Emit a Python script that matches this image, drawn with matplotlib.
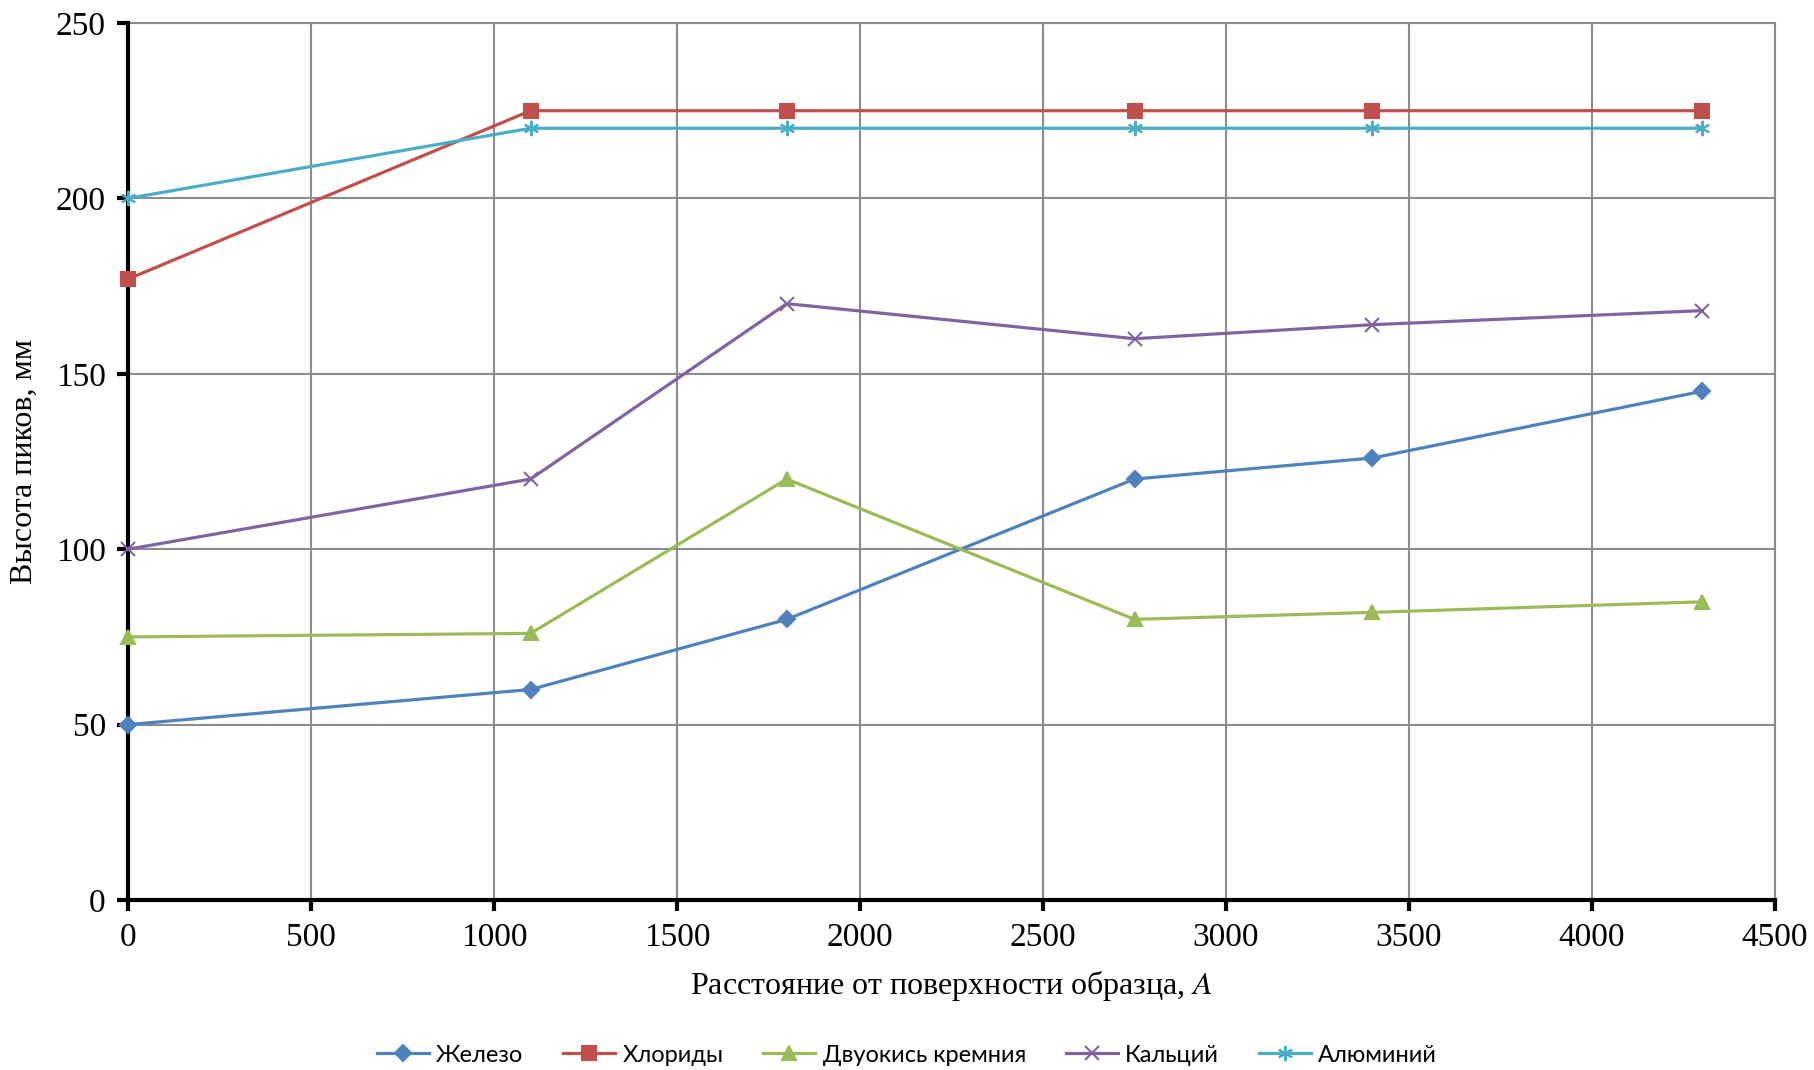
import numpy as np
import matplotlib
matplotlib.use('Agg')
import matplotlib.pyplot as plt

plt.rcParams['mathtext.fontset'] = 'stix'

# данные
x = [0, 1100, 1800, 2750, 3400, 4300]
zhelezo = [50, 60, 80, 120, 126, 145]
hloridy = [177, 225, 225, 225, 225, 225]
kremniy = [75, 76, 120, 80, 82, 85]
kalciy = [100, 120, 170, 160, 164, 168]
aluminiy = [200, 220, 220, 220, 220, 220]

names = ['Железо', 'Хлориды', 'Двуокись кремния', 'Кальций', 'Алюминий']
colors = ['#4F81BD', '#C0504D', '#9BBB59', '#8064A2', '#4BACC6']
markers = ['D', 's', '^', 'x', (6, 2, 0)]
msizes = [8, 10, 10, 10, 11]

fig = plt.figure(figsize=(18.14, 10.70), dpi=100)
ax = fig.add_axes([128 / 1814, 1 - 900 / 1070, (1775 - 128) / 1814, (900 - 23) / 1070])

series = [zhelezo, hloridy, kremniy, kalciy, aluminiy]
for i, y in enumerate(series):
    ax.plot(x, y, color=colors[i], marker=markers[i], markersize=msizes[i],
            markeredgewidth=1.5, linewidth=2.3, label=names[i], zorder=5,
            clip_on=False)

ax.set_xlim(0, 4500)
ax.set_ylim(0, 250)
ax.set_xticks(np.arange(0, 4501, 500))
ax.set_yticks(np.arange(0, 251, 50))
ax.grid(True, color='#8c8c8c', linewidth=1.5)
ax.set_axisbelow(True)

for s in ['top', 'right']:
    ax.spines[s].set_color('#8c8c8c')
    ax.spines[s].set_linewidth(1.5)
for s in ['left', 'bottom']:
    ax.spines[s].set_color('black')
    ax.spines[s].set_linewidth(3)
    ax.spines[s].set_zorder(4)

ax.tick_params(direction='out', length=8, width=3, color='black',
               labelsize=24, pad=8)
for lab in ax.get_xticklabels() + ax.get_yticklabels():
    lab.set_fontfamily('Liberation Serif')

ax.set_ylabel('Высота пиков, мм', fontsize=23, fontfamily='Liberation Serif', labelpad=12)
ax.set_xlabel('Расстояние от поверхности образца, $\\mathit{A}$', fontsize=23,
              fontfamily='Liberation Serif', labelpad=12)

leg = fig.legend(loc='center', bbox_to_anchor=(0.5, 1 - 1055 / 1070), ncol=5,
                 frameon=False, prop={'family': 'Lato', 'size': 17},
                 handlelength=2.2, columnspacing=1.7, handletextpad=0.3)

fig.savefig('out.png', dpi=100)
